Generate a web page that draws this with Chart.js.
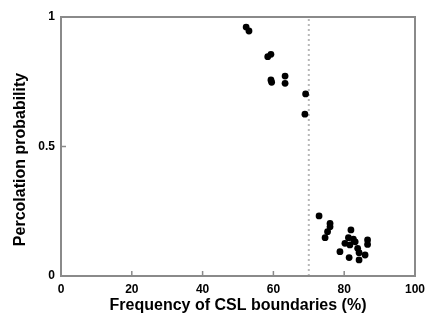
<!DOCTYPE html>
<html>
<head>
<meta charset="utf-8">
<script src="https://cdn.jsdelivr.net/npm/chart.js@4"></script>
<style>
html,body{margin:0;padding:0;background:#fff;}
#wrap{width:427px;height:322px;}
</style>
</head>
<body>
<div id="wrap"><canvas id="c" width="427" height="322"></canvas></div>
<script>
const freqCSL = [52.3,53.1,58.4,59.3,59.3,59.5,63.3,63.3,69.1,68.9,
  72.9,76.0,76.0,75.3,74.6,81.9,81.2,82.6,83.1,80.2,81.6,86.6,86.6,83.8,84.2,78.8,85.9,81.4,84.2];
const percProb = [0.961,0.946,0.847,0.856,0.757,0.748,0.772,0.744,0.703,0.625,
  0.232,0.203,0.190,0.171,0.148,0.178,0.148,0.142,0.132,0.126,0.120,0.139,0.122,0.107,0.090,0.094,0.081,0.071,0.062];
const thresholdX = [70,70];
const thresholdY = [0,1];
const xTicks = [0,20,40,60,80,100];
const yTicks = [0,0.5,1];
const xTitle = 'Frequency of CSL boundaries (%)';
const yTitle = 'Percolation probability';

const pts = freqCSL.map((x,i)=>({x:x,y:percProb[i]}));
const thr = thresholdX.map((x,i)=>({x:x,y:thresholdY[i]}));

const framePlugin = {
  id:'frame',
  afterDatasetsDraw(chart){
    const {ctx, chartArea:a, scales} = chart;
    ctx.save();
    ctx.strokeStyle = '#8a8a8a';
    ctx.lineWidth = 2;
    ctx.strokeRect(a.left, a.top, a.right-a.left, a.bottom-a.top);
    ctx.lineWidth = 1.5;
    ctx.beginPath();
    xTicks.slice(1,-1).forEach(v=>{
      const px = scales.x.getPixelForValue(v);
      ctx.moveTo(px, a.bottom); ctx.lineTo(px, a.bottom-5);
    });
    yTicks.slice(1,-1).forEach(v=>{
      const py = scales.y.getPixelForValue(v);
      ctx.moveTo(a.left, py); ctx.lineTo(a.left+5, py);
    });
    ctx.stroke();
    // y axis title
    ctx.translate(21, scales.y.getPixelForValue(0.45));
    ctx.rotate(-Math.PI/2);
    ctx.fillStyle = '#000';
    ctx.font = 'bold 16px "Liberation Sans", Arial';
    ctx.textAlign = 'center';
    ctx.textBaseline = 'middle';
    ctx.fillText(yTitle, 0, 0);
    ctx.restore();
  }
};

new Chart(document.getElementById('c'), {
  type:'scatter',
  data:{datasets:[
    {data:thr, type:'line', showLine:true, borderColor:'#b8b8b8', borderWidth:2, borderDash:[2,3], pointRadius:0, order:2},
    {data:pts, backgroundColor:'#000', borderColor:'#000', pointRadius:3.4, borderWidth:0, order:1}
  ]},
  options:{
    responsive:false, animation:false,
    layout:{padding:{top:17,right:12,left:0,bottom:0}},
    plugins:{legend:{display:false}, tooltip:{enabled:false}},
    scales:{
      x:{type:'linear', min:0, max:100,
        afterBuildTicks(s){ s.ticks = xTicks.map(v=>({value:v})); },
        grid:{display:false, drawTicks:false},
        border:{display:false},
        ticks:{color:'#000', padding:6, font:{family:'Liberation Sans, Arial', size:12, weight:'bold'}, maxRotation:0},
        title:{display:true, text:xTitle, color:'#000', padding:{top:4,bottom:7}, font:{family:'Liberation Sans, Arial', size:16, weight:'bold'}},
        afterFit(s){ s.height = 46; s.paddingLeft = 0; s.paddingRight = 0; }
      },
      y:{type:'linear', min:0, max:1,
        afterBuildTicks(s){ s.ticks = yTicks.map(v=>({value:v})); },
        grid:{display:false, drawTicks:false},
        border:{display:false},
        ticks:{color:'#000', padding:6, font:{family:'Liberation Sans, Arial', size:12, weight:'bold'}, callback:(v)=>String(v)},
        afterFit(s){ s.width = 61; s.paddingTop = 0; s.paddingBottom = 0; }
      }
    }
  },
  plugins:[framePlugin]
});
</script>
</body>
</html>
